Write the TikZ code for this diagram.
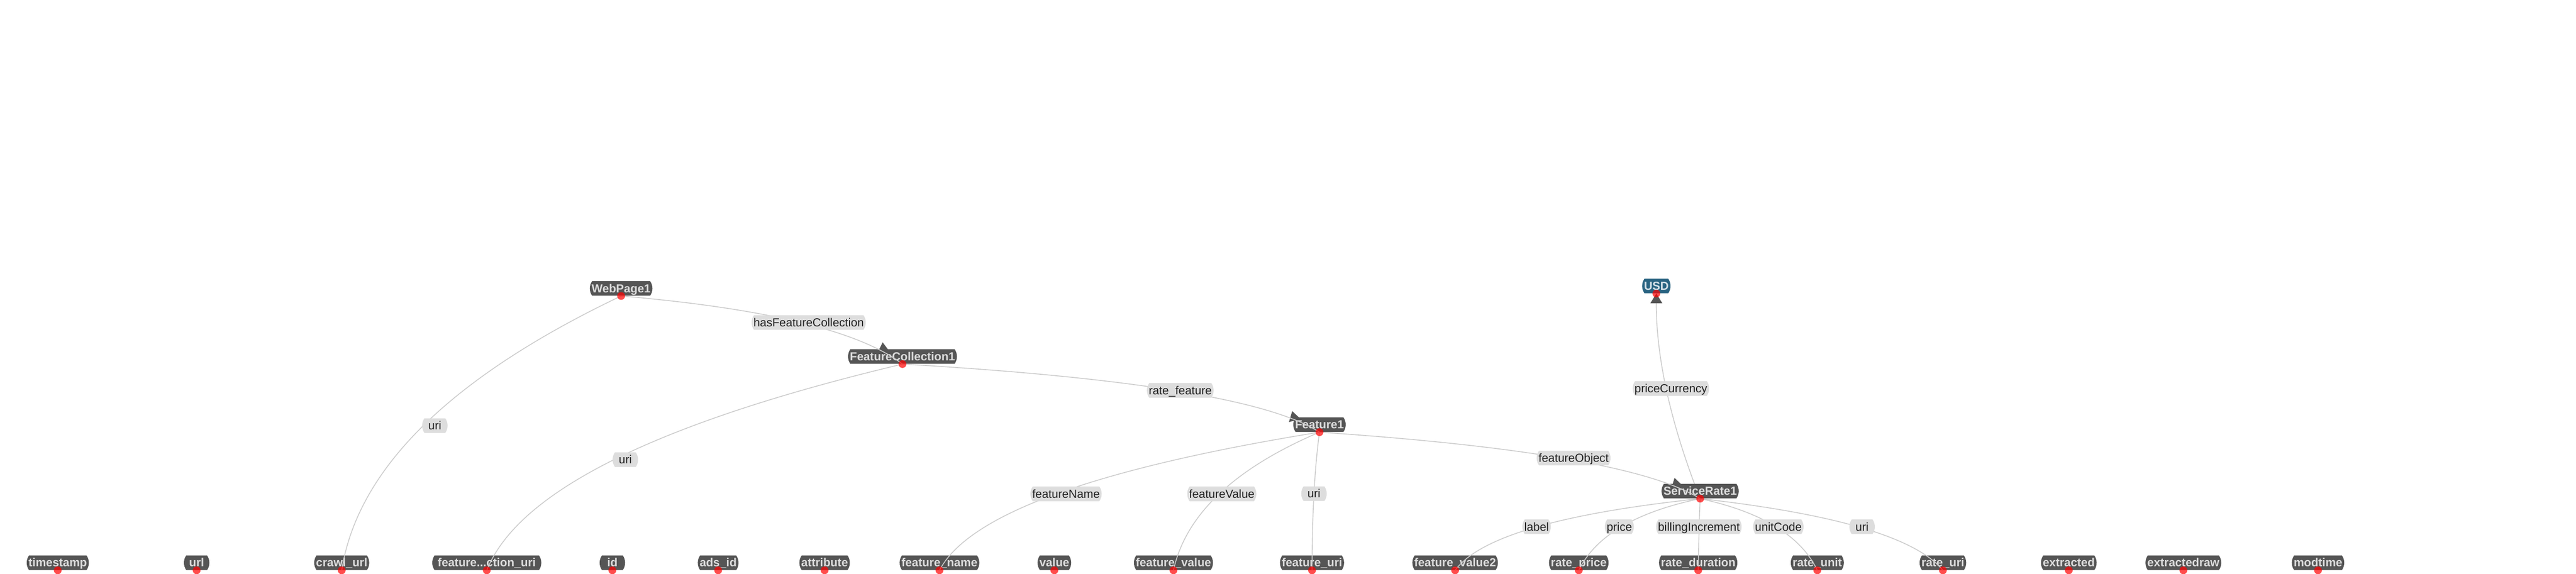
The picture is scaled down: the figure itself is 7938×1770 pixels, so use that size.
\documentclass[tikz,border=0pt]{standalone}
\usepackage{fontspec}
\setmainfont{Liberation Sans}
\usetikzlibrary{shapes.misc,calc}
\definecolor{nodegrey}{HTML}{555555}
\definecolor{nodetext}{HTML}{DCDCDC}
\definecolor{usdblue}{HTML}{2A6482}
\definecolor{usdtext}{HTML}{D5E1E8}
\definecolor{labgrey}{HTML}{DDDDDD}
\definecolor{labtext}{HTML}{222222}
\definecolor{edgegrey}{HTML}{CCCCCC}
\definecolor{dotred}{HTML}{FF0000}
\pgfdeclarelayer{background}
\pgfsetlayers{background,main}
\newcommand\qedge[3]{\draw[link] (#1) .. controls ($(#2)!-1/3!(#3)$) and ($(#2)!-1/3!(#1)$) .. (#3);}
\begin{document}
\begin{tikzpicture}[x=0.25pt,y=-0.25pt,
  nbase/.style={rounded rectangle, rounded rectangle arc length=70, inner xsep=0pt, inner ysep=0pt,
    minimum height=11.25pt, text height=8.2pt, text depth=2pt, font=\fontsize{9}{10}\selectfont},
  cls/.style={nbase, fill=nodegrey, text=nodetext, font=\fontsize{9}{10}\selectfont\bfseries},
  lit/.style={nbase, fill=usdblue, text=usdtext, font=\fontsize{9}{10}\selectfont\bfseries},
  elabel/.style={nbase, fill=labgrey, text=labtext},
  link/.style={draw=edgegrey, line width=0.65pt},
  arrowtri/.style={fill=nodegrey},
  reddot/.style={circle, fill=dotred, fill opacity=0.7, draw=none, inner sep=0pt, minimum size=6pt}
]
\useasboundingbox (0,0) rectangle (7938,1770);

% class nodes
\node[cls] (WebPage1) at (1914,889.5) {WebPage1};
\node[cls] (FC1) at (2781,1099.5) {FeatureCollection1};
\node[cls] (Feature1) at (4066,1309.5) {Feature1};
\node[cls] (SR1) at (5239,1514.5) {ServiceRate1};
\node[lit] (USD) at (5104,882) {USD};

% bottom row
\node[cls] (timestamp) at (178,1735.5) {timestamp};
\node[cls] (url) at (606,1735.5) {url};
\node[cls] (crawlurl) at (1053,1735.5) {crawl\_url};
\node[cls, minimum width=84pt] (fcuri) at (1500,1735.5) {feature...ction\_uri};
\node[cls] (id) at (1887,1735.5) {id};
\node[cls] (adsid) at (2213,1735.5) {ads\_id};
\node[cls] (attribute) at (2541,1735.5) {attribute};
\node[cls] (featurename) at (2895,1735.5) {feature\_name};
\node[cls] (value) at (3249,1735.5) {value};
\node[cls] (featurevalue) at (3616,1735.5) {feature\_value};
\node[cls] (featureuri) at (4043,1735.5) {feature\_uri};
\node[cls] (featurevalueb) at (4484,1735.5) {feature\_value2};
\node[cls] (rateprice) at (4865,1735.5) {rate\_price};
\node[cls] (rateduration) at (5233,1735.5) {rate\_duration};
\node[cls] (rateunit) at (5600,1735.5) {rate\_unit};
\node[cls] (rateuri) at (5987,1735.5) {rate\_uri};
\node[cls] (extracted) at (6375,1735.5) {extracted};
\node[cls] (extractedraw) at (6728,1735.5) {extractedraw};
\node[cls] (modtime) at (7143,1735.5) {modtime};

% pass points of the connectors
\coordinate (pHFC) at (2465,994);
\coordinate (pUri1) at (1305,1312);
\coordinate (pUri2) at (1893,1417);
\coordinate (pRF) at (3630,1206);
\coordinate (pFN) at (3255,1523);
\coordinate (pFV) at (3757,1523);
\coordinate (pUri3) at (4049,1522);
\coordinate (pFO) at (4832,1416);
\coordinate (pPC) at (5134,1198);
\coordinate (pLabel) at (4728,1627);
\coordinate (pPrice) at (4997,1624);
\coordinate (pBI) at (5236,1624);
\coordinate (pUC) at (5472,1624);
\coordinate (pUri4) at (5738,1628);

\begin{pgfonlayer}{background}
  \fill[white] (0,0) rectangle (7938,1770);
  \qedge{SR1.south}{pPC}{USD.south}
\end{pgfonlayer}

% arrow heads
\coordinate (aUSD) at (USD.south);
\coordinate (aFC1) at ($(FC1.south)+(-61,-67)$);
\coordinate (aFeature1) at ($(Feature1.south)+(-84,-65)$);
\coordinate (aSR1) at ($(SR1.south)+(-79,-64)$);
\fill[arrowtri, shift={(aUSD)}] (0,0) -- (-18.5,30) -- (18.5,30) -- cycle;
\fill[arrowtri, shift={(aFC1)}, rotate=5] (0,0) -- (-18.5,30) -- (18.5,30) -- cycle;
\fill[arrowtri, shift={(aFeature1)}, rotate=15] (0,0) -- (-18.5,30) -- (18.5,30) -- cycle;
\fill[arrowtri, shift={(aSR1)}, rotate=15] (0,0) -- (-18.5,30) -- (18.5,30) -- cycle;

% connectors
\qedge{WebPage1.south}{pHFC}{FC1.south}
\qedge{WebPage1.south}{pUri1}{crawlurl.south}
\qedge{FC1.south}{pUri2}{fcuri.south}
\qedge{FC1.south}{pRF}{Feature1.south}
\qedge{Feature1.south}{pFN}{featurename.south}
\qedge{Feature1.south}{pFV}{featurevalue.south}
\qedge{Feature1.south}{pUri3}{featureuri.south}
\qedge{Feature1.south}{pFO}{SR1.south}
\qedge{SR1.south}{pLabel}{featurevalueb.south}
\qedge{SR1.south}{pPrice}{rateprice.south}
\qedge{SR1.south}{pBI}{rateduration.south}
\qedge{SR1.south}{pUC}{rateunit.south}
\qedge{SR1.south}{pUri4}{rateuri.south}

% connector labels
\node[elabel] (lHFC) at (2492,994.5) {hasFeatureCollection};
\node[elabel] (lUri1) at (1340,1312.5) {uri};
\node[elabel] (lUri2) at (1927,1417.5) {uri};
\node[elabel] (lRF) at (3637,1204) {rate\_feature};
\node[elabel] (lFN) at (3285,1523) {featureName};
\node[elabel] (lFV) at (3765,1523) {featureValue};
\node[elabel] (lUri3) at (4049,1522.5) {uri};
\node[elabel] (lFO) at (4849,1412.5) {featureObject};
\node[elabel] (lPC) at (5149,1198) {priceCurrency};
\node[elabel] (lLabel) at (4735,1624.5) {label};
\node[elabel] (lPrice) at (4990,1624.5) {price};
\node[elabel] (lBI) at (5235,1624.5) {billingIncrement};
\node[elabel] (lUC) at (5480,1624.5) {unitCode};
\node[elabel] (lUri4) at (5738,1624.5) {uri};

% red anchor dots
\foreach \n in {WebPage1,FC1,Feature1,SR1,USD,timestamp,url,crawlurl,fcuri,id,adsid,attribute,featurename,value,featurevalue,featureuri,featurevalueb,rateprice,rateduration,rateunit,rateuri,extracted,extractedraw,modtime}
  \node[reddot] (dot\n) at (\n.south) {};
\end{tikzpicture}
\end{document}
